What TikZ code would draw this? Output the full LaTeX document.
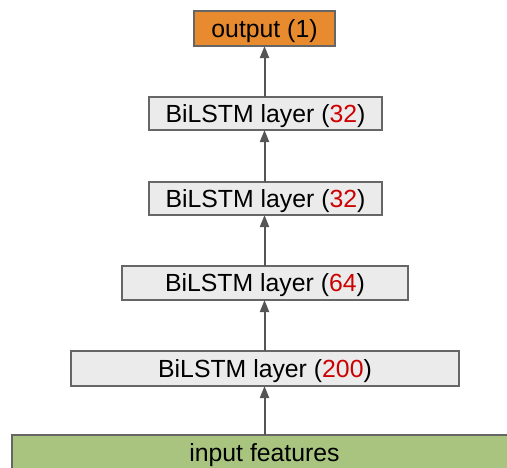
\documentclass[tikz,border=0pt]{standalone}
\usepackage{fontspec}
\setmainfont{Liberation Sans}
\usetikzlibrary{arrows.meta}
\definecolor{boxgray}{HTML}{EBEBEB}
\definecolor{edgegray}{HTML}{666666}
\definecolor{arrowgray}{HTML}{555555}
\definecolor{unitred}{HTML}{CC0000}
\definecolor{outorange}{HTML}{E88A2E}
\definecolor{ingreen}{HTML}{A8C47F}
\tikzset{
  layerbox/.style={draw=edgegray, line width=0.7pt, inner sep=0pt, outer sep=0pt,
    font=\fontsize{12.4}{14}\selectfont, text=black, text height=8.6pt, text depth=0pt},
  flow/.style={draw=arrowgray, line width=1pt, -{Triangle[length=6pt,width=4.5pt]}}
}
\newcommand{\units}[1]{(\textcolor{unitred}{#1})}
\begin{document}
\begin{tikzpicture}[x=0.5pt, y=-0.5pt]
          \clip (0,0) rectangle (507,467); % Fixes the page

          \node [layerbox, fill=outorange, minimum width=70.5pt, minimum height=17.5pt] (out) at (264.5,28.5) {output (1)}; % Draws a rectangle

          \node [layerbox, fill=boxgray, minimum width=116.5pt, minimum height=16.5pt] (lstmd) at (265.5,113.5) {BiLSTM layer \units{32}}; % Draws a rectangle
          \node [layerbox, fill=boxgray, minimum width=116.5pt, minimum height=16.5pt] (lstmc) at (265.5,198.5) {BiLSTM layer \units{32}}; % Draws a rectangle
          \node [layerbox, fill=boxgray, minimum width=143pt, minimum height=17pt] (lstmb) at (265,283) {BiLSTM layer \units{64}}; % Draws a rectangle
          \node [layerbox, fill=boxgray, minimum width=194pt, minimum height=17.5pt] (lstma) at (265,368.5) {BiLSTM layer \units{200}}; % Draws a rectangle

          \node [layerbox, fill=ingreen, minimum width=252.5pt, minimum height=17.5pt] (feat) at (264.5,452.5) {input features}; % Draws a rectangle

          \draw [flow] (feat.north) to (feat.north |- lstma.south);
          \draw [flow] (lstma.north -| feat.north) to (feat.north |- lstmb.south);
          \draw [flow] (lstmb.north -| feat.north) to (feat.north |- lstmc.south);
          \draw [flow] (lstmc.north -| feat.north) to (feat.north |- lstmd.south);
          \draw [flow] (lstmd.north -| feat.north) to (feat.north |- out.south);
        \end{tikzpicture}
\end{document}
